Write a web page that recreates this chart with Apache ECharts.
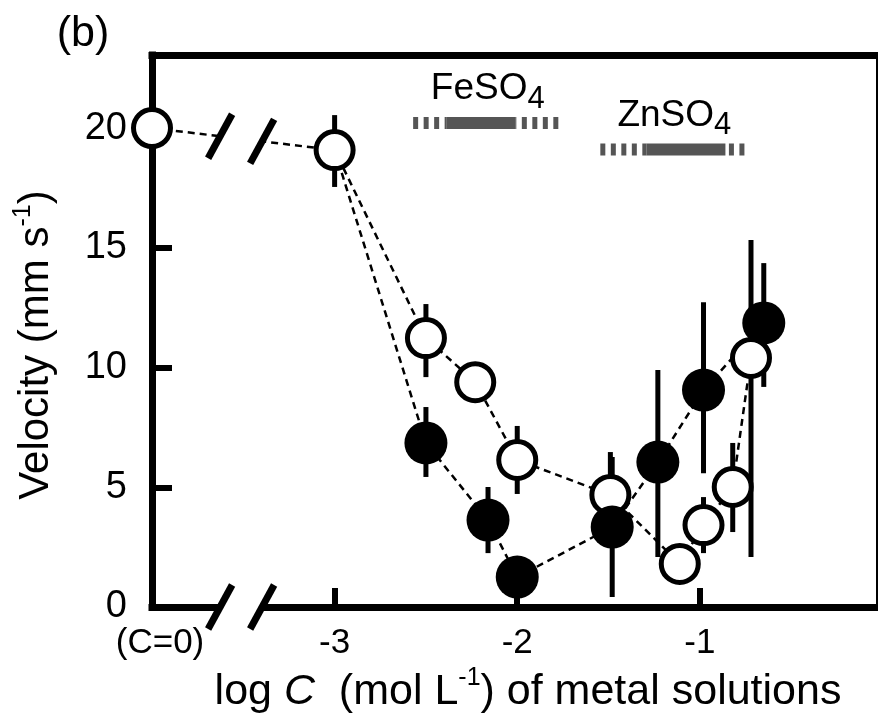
<!DOCTYPE html>
<html><head><meta charset="utf-8">
<script src="https://cdn.jsdelivr.net/npm/echarts@6/dist/echarts.min.js"></script>
<style>html,body{margin:0;padding:0;background:#fff}#c{width:878px;height:719px}</style>
</head><body><div id="c"></div>
<script>
// ---- data ----
const X_TICKS = [-4, -3, -2, -1];
const X_TICK_LABELS = ['(C=0)', '-3', '-2', '-1'];
const Y_TICKS = [0, 5, 10, 15, 20];

// open circles (x = log C, -4 stands for C = 0)
const OPEN_X  = [-4,   -3.0,  -2.5,  -2.23, -2.0, -1.49, -1.11, -0.98, -0.82, -0.72];
const OPEN_Y  = [20.0, 19.08, 11.23, 9.39,  6.14, 4.68,  1.80,  3.42,  5.01,  10.40];
const OPEN_LO = [20.0, 17.54, 9.60,  8.55,  4.72, 2.89,  1.80,  2.25,  3.13,  2.09];
const OPEN_HI = [20.0, 20.54, 12.65, 10.23, 7.56, 6.47,  1.80,  4.59,  6.85,  15.32];

// filled circles
const FILLED_X  = [-2.5, -2.16, -2.0, -1.48, -1.23, -0.98, -0.65];
const FILLED_Y  = [6.85, 3.63,  1.25, 3.34,  6.05,  9.06,  11.86];
const FILLED_LO = [5.43, 2.25,  0.38, 0.42,  2.09,  5.59,  9.19];
const FILLED_HI = [8.35, 5.01,  2.12, 6.26,  9.90,  12.73, 14.36];

// concentration range annotations
const RANGE_NAME  = ['FeSO', 'ZnSO'];
const RANGE_SUB   = ['4', '4'];
const RANGE_START = [-2.57, -1.545];
const RANGE_END   = [-1.775, -0.756];
const CORE_START  = [-2.389, -1.293];
const CORE_END    = [-2.011, -0.860];
const RANGE_LEVEL = [20.21, 19.10];

// axis break positions (x in log C)
const BREAK_X = [-3.627, -3.397];

// ---- chart ----
const FONT = 'Liberation Sans';
const mctx = document.createElement('canvas').getContext('2d');
function tw(text, size) { mctx.font = size + 'px "' + FONT + '"'; return mctx.measureText(text).width; }

const chart = echarts.init(document.getElementById('c'), null, {renderer: 'canvas'});

function markerSeries(xs, ys, lo, hi, filled) {
  return {
    type: 'custom', z: 4, clip: false, silent: true,
    data: xs.map((x, i) => [x, ys[i], lo[i], hi[i]]),
    renderItem(params, api) {
      const x = api.value(0), y = api.value(1), l = api.value(2), h = api.value(3);
      const c = api.coord([x, y]);
      const children = [];
      if (h > l) {
        const pl = api.coord([x, l]), ph = api.coord([x, h]);
        children.push({type: 'line', z2: 1, shape: {x1: c[0], y1: pl[1], x2: c[0], y2: ph[1]},
          style: {stroke: '#000', lineWidth: 5}});
      }
      children.push({type: 'circle', z2: 200 - y,
        shape: {cx: c[0], cy: c[1], r: filled ? 21.5 : 18.5},
        style: filled ? {fill: '#000'} : {fill: '#fff', stroke: '#000', lineWidth: 5}});
      return {type: 'group', children};
    }
  };
}

const dashed = {color: '#000', width: 2.5, type: [7, 5]};

const option = {
  animation: false,
  grid: {left: 152, right: 1, top: 55, bottom: 112},
  xAxis: [{
    type: 'value', position: 'bottom', min: -4, max: -0.03, interval: 1,
    axisLine: {show: true, onZero: false, lineStyle: {color: '#000', width: 7, cap: 'square'}},
    axisTick: {show: true, inside: true, length: 19, customValues: X_TICKS.slice(1),
      lineStyle: {color: '#000', width: 6}},
    axisLabel: {customValues: X_TICKS, fontSize: 35, fontFamily: FONT, color: '#000', margin: 19,
      formatter: v => {
        const i = X_TICKS.indexOf(v);
        if (i < 0) return '';
        return i === 0 ? '{c|' + X_TICK_LABELS[i] + '}' : '{t|' + X_TICK_LABELS[i] + '}';
      },
      rich: {c: {fontSize: 35, fontFamily: FONT, color: '#000', padding: [0, 0, 0, 16]},
             t: {fontSize: 35, fontFamily: FONT, color: '#000'}}},
    splitLine: {show: false}
  }, {
    type: 'value', position: 'top', min: -4, max: -0.03,
    axisLine: {show: true, onZero: false, lineStyle: {color: '#000', width: 7, cap: 'square'}},
    axisTick: {show: false}, axisLabel: {show: false}, splitLine: {show: false}
  }],
  yAxis: [{
    type: 'value', position: 'left', min: 0, max: 23.05, interval: 5,
    axisLine: {show: true, onZero: false, lineStyle: {color: '#000', width: 7, cap: 'square'}},
    axisTick: {show: true, inside: true, length: 20, customValues: Y_TICKS.slice(1),
      lineStyle: {color: '#000', width: 6}},
    axisLabel: {customValues: Y_TICKS, fontSize: 38, fontFamily: FONT, color: '#000', margin: 25,
      formatter: v => '{t|' + v + '}',
      rich: {t: {fontSize: 38, fontFamily: FONT, color: '#000'}}},
    splitLine: {show: false}
  }, {
    type: 'value', position: 'right', min: 0, max: 23.05,
    axisLine: {show: true, onZero: false, lineStyle: {color: '#000', width: 2}},
    axisTick: {show: false}, axisLabel: {show: false}, splitLine: {show: false}
  }],
  graphic: [
    {type: 'text', x: 83, y: 34, style: {text: '(b)', fontSize: 43, fontFamily: FONT, fill: '#000',
      align: 'center', verticalAlign: 'middle'}},
    {type: 'text', x: 528, y: 692, style: {
      text: 'log {i|C}  (mol L{s|-1}) of metal solutions', fontSize: 43, fontFamily: FONT, fill: '#000',
      lineHeight: 52, align: 'center', verticalAlign: 'middle',
      rich: {i: {fontSize: 43, fontStyle: 'italic', fontFamily: FONT, fill: '#000', lineHeight: 52},
             s: {fontSize: 25, fontFamily: FONT, fill: '#000', lineHeight: 25, verticalAlign: 'top'}}}},
    {type: 'text', x: 36, y: 345, rotation: Math.PI / 2, style: {
      text: 'Velocity (mm s{s|-1})', fontSize: 42, fontFamily: FONT, fill: '#000',
      lineHeight: 51, align: 'center', verticalAlign: 'middle',
      rich: {s: {fontSize: 25, fontFamily: FONT, fill: '#000', lineHeight: 25, verticalAlign: 'top'}}}}
  ],
  series: [
    {type: 'line', z: 2, silent: true, symbol: 'none', lineStyle: dashed,
      data: OPEN_X.map((x, i) => [x, OPEN_Y[i]])},
    {type: 'line', z: 2, silent: true, symbol: 'none', lineStyle: dashed,
      data: [[OPEN_X[1], OPEN_Y[1]]].concat(FILLED_X.map((x, i) => [x, FILLED_Y[i]]))},
    {
      type: 'custom', z: 3, clip: false, silent: true, data: [[BREAK_X[0], 0]],
      renderItem(params, api) {
        const ch = [];
        const yAt = x => OPEN_Y[0] + (OPEN_Y[1] - OPEN_Y[0]) * (x - OPEN_X[0]) / (OPEN_X[1] - OPEN_X[0]);
        const a = api.coord([BREAK_X[0], 0]), b = api.coord([BREAK_X[1], 0]);
        const ta = api.coord([BREAK_X[0], yAt(BREAK_X[0])]), tb = api.coord([BREAK_X[1], yAt(BREAK_X[1])]);
        ch.push({type: 'line', shape: {x1: a[0], y1: a[1], x2: b[0], y2: b[1]}, style: {stroke: '#fff', lineWidth: 12}});
        ch.push({type: 'line', shape: {x1: ta[0], y1: ta[1], x2: tb[0], y2: tb[1]}, style: {stroke: '#fff', lineWidth: 6}});
        [a, b, ta, tb].forEach(p => {
          ch.push({type: 'line', shape: {x1: p[0] - 12, y1: p[1] + 22, x2: p[0] + 12, y2: p[1] - 22},
            style: {stroke: '#000', lineWidth: 7}});
        });
        return {type: 'group', children: ch};
      }
    },
    {
      type: 'custom', z: 3, clip: false, silent: true,
      data: RANGE_LEVEL.map((y, i) => [RANGE_START[i], RANGE_END[i], CORE_START[i], CORE_END[i], y]),
      renderItem(params, api) {
        const i = params.dataIndex;
        const y = api.value(4);
        const ps = api.coord([api.value(0), y]), pe = api.coord([api.value(1), y]);
        const cs = api.coord([api.value(2), y]), ce = api.coord([api.value(3), y]);
        const st = {stroke: '#555', lineWidth: 12, lineCap: 'butt'};
        const ch = [
          {type: 'line', shape: {x1: ps[0], y1: ps[1], x2: cs[0], y2: cs[1]}, style: Object.assign({lineDash: [5, 5.5]}, st)},
          {type: 'line', shape: {x1: pe[0], y1: pe[1], x2: ce[0], y2: ce[1]}, style: Object.assign({lineDash: [5, 5.5]}, st)},
          {type: 'line', shape: {x1: cs[0], y1: cs[1], x2: ce[0], y2: ce[1]}, style: st}
        ];
        const main = RANGE_NAME[i], sub = RANGE_SUB[i];
        const wm = tw(main, 37), ws = tw(sub, 31);
        const left = (ps[0] + pe[0]) / 2 - (wm + ws) / 2 + 2;
        const ty = ps[1] - 34;
        ch.push({type: 'text', x: left, y: ty, style: {text: main, fontSize: 37, fontFamily: FONT, fill: '#000', align: 'left', verticalAlign: 'middle'}});
        ch.push({type: 'text', x: left + wm, y: ty + 10, style: {text: sub, fontSize: 31, fontFamily: FONT, fill: '#000', align: 'left', verticalAlign: 'middle'}});
        return {type: 'group', children: ch};
      }
    },
    markerSeries(OPEN_X, OPEN_Y, OPEN_LO, OPEN_HI, false),
    markerSeries(FILLED_X, FILLED_Y, FILLED_LO, FILLED_HI, true)
  ]
};
chart.setOption(option);
</script>
</body></html>
